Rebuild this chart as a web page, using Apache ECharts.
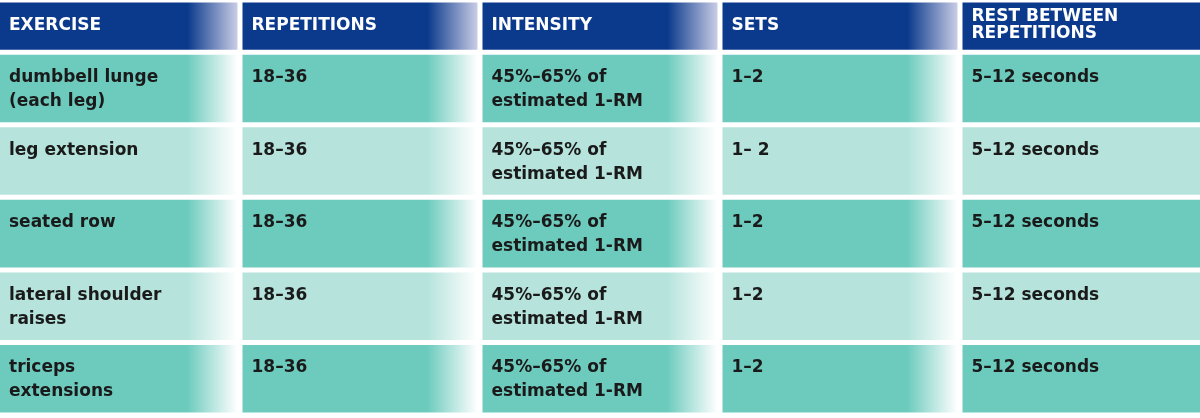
<!DOCTYPE html>
<html><head><meta charset="utf-8">
<script src="https://cdn.jsdelivr.net/npm/echarts@6/dist/echarts.min.js"></script>
<style>html,body{margin:0;padding:0;background:#fff}#c{width:1200px;height:418px}</style>
</head><body><div id="c"></div>
<script>
const headers = ['EXERCISE','REPETITIONS','INTENSITY','SETS','REST BETWEEN\nREPETITIONS'];
const exercises = ['dumbbell lunge\n(each leg)','leg extension','seated row','lateral shoulder\nraises','triceps\nextensions'];
const repetitions = ['18–36','18–36','18–36','18–36','18–36'];
const intensity = ['45%–65% of\nestimated 1-RM','45%–65% of\nestimated 1-RM','45%–65% of\nestimated 1-RM','45%–65% of\nestimated 1-RM','45%–65% of\nestimated 1-RM'];
const sets = ['1–2','1– 2','1–2','1–2','1–2'];
const rest = ['5–12 seconds','5–12 seconds','5–12 seconds','5–12 seconds','5–12 seconds'];

const columns = [exercises, repetitions, intensity, sets, rest];
const data = [];
headers.forEach((h,c)=>data.push([c,-1,h]));
columns.forEach((col,c)=>col.forEach((v,r)=>data.push([c,r,v])));

const HEAD = 0.72;
function renderItem(params, api){
  const c = api.value(0), r = api.value(1), text = api.value(2);
  const y0 = r<0 ? -HEAD : r, y1 = r<0 ? 0 : r+1;
  const p0 = api.coord([c,y0]), p1 = api.coord([c+1,y1]);
  const x = p0[0] + (c>0?2.5:0), w = p1[0]-p0[0] - (c>0?2.5:0) - (c<4?2.5:0);
  const y = p0[1] + 2.5, h = p1[1]-p0[1] - 5;
  let base, end;
  if (r<0){ base='#0b3a8c'; end='#c9cde6'; }
  else if (r%2===0){ base='#6dcbbe'; end='#ffffff'; }
  else { base='#b6e4dc'; end='#ffffff'; }
  const s = Math.max(0, (w-50)/w);
  const fill = c===4 ? base : new echarts.graphic.LinearGradient(0,0,1,0,[{offset:0,color:base},{offset:s,color:base},{offset:1,color:end}]);
  return {type:'group',children:[
    {type:'rect',shape:{x,y,width:w,height:h},style:{fill}},
    {type:'text',x:x+9,y:y+(r<0?(text.indexOf('\n')>=0?6:15):11),style:{text,fill:r<0?'#ffffff':'#1a1a1a',font:'bold 17px "DejaVu Sans", sans-serif',lineHeight:r<0?17:24}}
  ]};
}
const chart = echarts.init(document.getElementById('c'));
chart.setOption({
  animation:false,
  grid:{left:0,right:0,top:0,bottom:3},
  xAxis:{type:'value',min:0,max:5,show:false},
  yAxis:{type:'value',min:-HEAD,max:5,inverse:true,show:false},
  series:[{type:'custom',renderItem,data,clip:false}]
});
</script></body></html>
